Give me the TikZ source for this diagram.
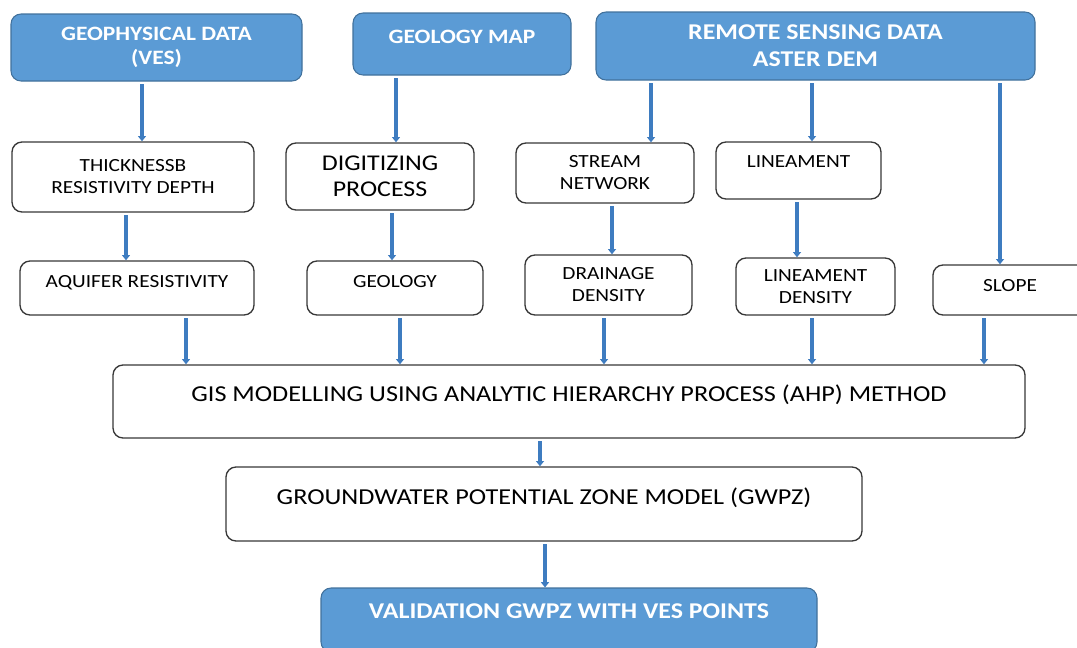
\documentclass[tikz,border=0pt]{standalone}
\usepackage{fontspec}
\setmainfont{Carlito}[FakeStretch=1.15]
\usetikzlibrary{arrows.meta}
\definecolor{azul}{HTML}{5B9BD5}
\definecolor{borde}{HTML}{41719C}
\definecolor{flecha}{HTML}{3E7CC0}
\definecolor{linea}{HTML}{383838}
\newcommand{\fhead}{\fontsize{15.3}{17.5}\selectfont\bfseries}
\newcommand{\fremo}{\fontsize{16.9}{20.3}\selectfont\bfseries}
\newcommand{\fsmall}{\fontsize{13.9}{16.5}\selectfont}
\newcommand{\fdig}{\fontsize{16.9}{19.5}\selectfont}
\newcommand{\fbig}{\fontsize{17.1}{20}\selectfont}
\begin{document}
\begin{tikzpicture}[x=0.75pt,y=-0.75pt,
    sz/.style 2 args={minimum width=#1*0.75pt,minimum height=#2*0.75pt},
    source/.style={draw=borde,fill=azul,text=white,rounded corners=7.5pt,line width=0.8pt,align=center,inner sep=0pt},
    layer/.style={draw=linea,fill=white,rounded corners=7.5pt,line width=1pt,align=center,inner sep=0pt},
    flow/.style={draw=flecha,line width=3.6pt,-{Triangle[length=4pt,width=6pt]},shorten <=2pt}]
                \useasboundingbox (0,0) rectangle (1077,647); % marco
                % fuentes de datos
                \node[source,sz={291}{67},font=\fhead] (geof) at (156.5,47.5) {GEOPHYSICAL DATA\\(VES)};
                \node[source,sz={218}{62},font=\fhead,text depth=10.5pt] (mapa) at (462,44) {GEOLOGY MAP};
                \node[source,sz={439}{68},font=\fremo] (remo) at (815.5,46) {REMOTE SENSING DATA\\ASTER DEM};
                % procesos
                \node[layer,sz={242}{70},font=\fsmall] (thick) at (133,177) {THICKNESSB\\RESISTIVITY DEPTH};
                \node[layer,sz={188}{67},font=\fdig] (digit) at (380,176.5) {DIGITIZING\\PROCESS};
                \node[layer,sz={178}{60},font=\fsmall] (stream) at (605,173) {STREAM\\NETWORK};
                \node[layer,sz={165}{57},font=\fsmall,text depth=14pt] (linea) at (798.5,170.5) {LINEAMENT};
                % capas tematicas
                \node[layer,sz={234}{54},font=\fsmall,text depth=10.5pt] (aquif) at (137,288) {AQUIFER RESISTIVITY};
                \node[layer,sz={176}{54},font=\fsmall,text depth=10.5pt] (geolo) at (395,288) {GEOLOGY};
                \node[layer,sz={167}{60},font=\fsmall] (drain) at (608.5,285) {DRAINAGE\\DENSITY};
                \node[layer,sz={159}{57},font=\fsmall] (lined) at (815.5,286.5) {LINEAMENT\\DENSITY};
                \node[layer,sz={154}{50},font=\fsmall,text depth=7.5pt] (slope) at (1010,290) {SLOPE};
                % modelo
                \node[layer,sz={912}{73},font=\fbig,text depth=12pt] (gis) at (569,401.5) {GIS MODELLING USING ANALYTIC HIERARCHY PROCESS (AHP) METHOD};
                \node[layer,sz={636}{74},font=\fbig,text depth=12pt] (gwpz) at (544,504) {GROUNDWATER POTENTIAL ZONE MODEL (GWPZ)};
                \node[source,sz={496}{64},font=\fremo,text depth=13.5pt] (valid) at (569,620) {VALIDATION GWPZ WITH VES POINTS};
                % flechas
                \foreach \x/\a/\b in {142/geof/thick,396/mapa/digit,651/remo/stream,812/remo/linea,1000/remo/slope,
                    126/thick/aquif,392/digit/geolo,612/stream/drain,797/linea/lined,
                    186/aquif/gis,400/geolo/gis,604/drain/gis,812/lined/gis,984/slope/gis,
                    540/gis/gwpz,545/gwpz/valid}
                \draw[flow] (\x,0 |- \a.south) -- (\x,0 |- \b.north);
\end{tikzpicture}
\end{document}
